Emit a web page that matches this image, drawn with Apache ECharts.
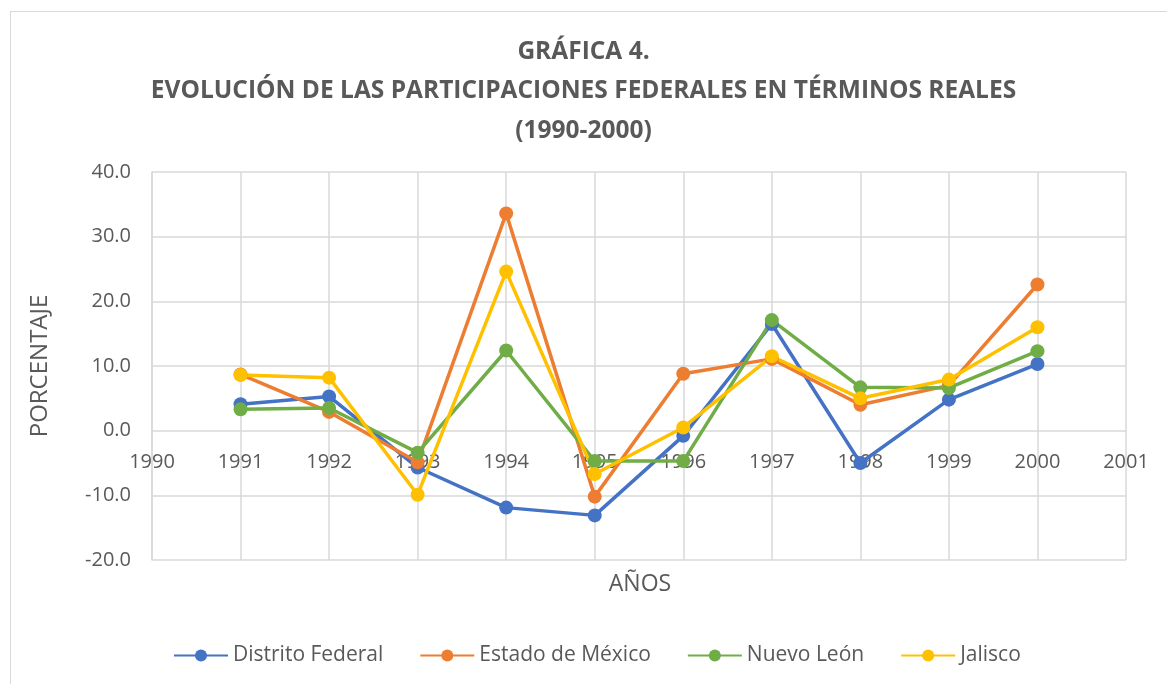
<!DOCTYPE html>
<html>
<head>
<meta charset="utf-8">
<script src="https://cdn.jsdelivr.net/npm/echarts@6/dist/echarts.min.js"></script>
<style>
  html, body { margin: 0; padding: 0; background: #fff; }
  #frame { position: absolute; left: 10px; top: 11px; width: 1170px; height: 690px; border: 1px solid #d9d9d9; box-sizing: border-box; }
  #chart { position: absolute; left: 0; top: 0; width: 1167px; height: 684px; }
</style>
</head>
<body>
<div id="frame"></div>
<div id="chart"></div>
<script>
// años (eje x)
var years = [1991, 1992, 1993, 1994, 1995, 1996, 1997, 1998, 1999, 2000]

// variación porcentual por estado
var distritoFederal = [4.1, 5.3, -5.7, -11.9, -13.1, -0.8, 16.5, -5.0, 4.8, 10.3]
var estadoMexico = [8.7, 2.9, -4.9, 33.6, -10.2, 8.8, 11.1, 4.0, 7.0, 22.6]
var nuevoLeon = [3.3, 3.5, -3.4, 12.4, -4.7, -4.7, 17.1, 6.7, 6.6, 12.3]
var jalisco = [8.6, 8.2, -9.9, 24.6, -6.7, 0.5, 11.5, 5.0, 7.9, 16.0]

var seriesNames = ['Distrito Federal', 'Estado de México', 'Nuevo León', 'Jalisco']
var seriesColors = ['#4472C4', '#ED7D31', '#70AD47', '#FFC000']

// rango del eje y
var yMin = -20, yMax = 40

var textColor = '#595959'
var fontFam = '"Open Sans", "Liberation Sans", sans-serif'

function pairs(vals) {
	return years.map((y, i) => [y, vals[i]])
}

var chartH = 684
var gridTop = 172, gridBottom = 124
// el eje x cruza en 0: desplazarlo desde abajo hasta la línea del cero
var plotH = chartH - gridTop - gridBottom
var zeroOffset = -plotH * (0 - yMin) / (yMax - yMin)

var chart = echarts.init(document.getElementById('chart'))
var allValues = [distritoFederal, estadoMexico, nuevoLeon, jalisco]

var option = {
	animation: false,
	color: seriesColors,
	title: [{
		text: 'GRÁFICA 4.\nEVOLUCIÓN DE LAS PARTICIPACIONES FEDERALES EN TÉRMINOS REALES\n(1990-2000)',
		left: 'center',
		top: 27,
		textStyle: { fontFamily: fontFam, fontSize: 24.5, fontWeight: 'bold', color: textColor, lineHeight: 39.5 }
	}, {
		text: 'AÑOS',
		left: 635,
		top: 568,
		textAlign: 'center',
		textStyle: { fontFamily: fontFam, fontSize: 23, fontWeight: 'normal', color: textColor }
	}],
	grid: { left: 152, right: 41, top: gridTop, bottom: gridBottom },
	legend: {
		bottom: 13,
		left: 168,
		itemWidth: 54,
		itemHeight: 15,
		itemGap: 36,
		textStyle: { fontFamily: fontFam, fontSize: 21, color: textColor },
		data: seriesNames
	},
	xAxis: {
		type: 'value',
		min: 1990,
		max: 2001,
		interval: 1,
		position: 'bottom',
		offset: zeroOffset,
		axisLine: { show: false },
		axisTick: { show: false },
		axisLabel: { color: textColor, fontFamily: fontFam, fontSize: 20, margin: 22, formatter: v => String(v) },
		splitLine: { show: true, lineStyle: { color: '#d9d9d9', width: 1.5 } }
	},
	yAxis: {
		type: 'value',
		min: yMin,
		max: yMax,
		interval: 10,
		name: 'PORCENTAJE',
		nameLocation: 'middle',
		nameGap: 100,
		nameTextStyle: { fontFamily: fontFam, fontSize: 24, color: textColor },
		axisLine: { show: true, onZero: false, lineStyle: { color: '#d9d9d9', width: 1.5 } },
		axisTick: { show: false },
		axisLabel: { color: textColor, fontFamily: fontFam, fontSize: 20, margin: 21, formatter: v => v.toFixed(1) },
		splitLine: { show: true, lineStyle: { color: '#d9d9d9', width: 1.5 } }
	},
	series: seriesNames.map((name, i) => ({
		name: name,
		type: 'line',
		data: pairs(allValues[i]),
		symbol: 'circle',
		symbolSize: 14,
		lineStyle: { width: 3.5 },
		itemStyle: { color: seriesColors[i] }
	}))
}
chart.setOption(option)
</script>
</body>
</html>
